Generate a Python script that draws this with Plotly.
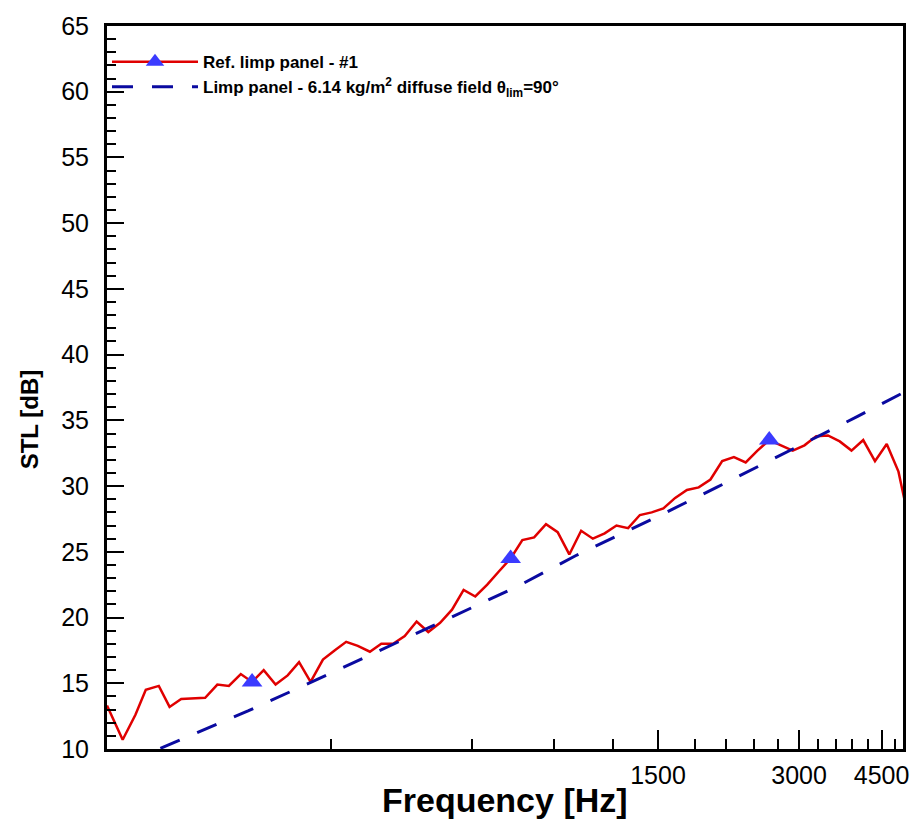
import plotly.graph_objects as go

# ---- data ----
freq_ref = [100, 108, 115, 121, 129, 136, 144, 153, 162, 172, 182, 193, 204, 216, 229, 243,
            257, 272, 289, 306, 324, 343, 364, 385, 408, 432, 458, 485, 514, 545, 577, 611,
            648, 686, 727, 770, 816, 865, 916, 970, 1028, 1089, 1154, 1223, 1295, 1372, 1454,
            1540, 1632, 1729, 1832, 1941, 2056, 2178, 2308, 2445, 2591, 2745, 2908, 3081,
            3264, 3458, 3664, 3882, 4112, 4357, 4616, 4890, 5181]
stl_ref = [13.3, 10.7, 12.6, 14.5, 14.8, 13.2, 13.8, 13.85, 13.9, 14.9, 14.8, 15.7, 15.1, 16.0,
           14.9, 15.6, 16.6, 15.1, 16.8, 17.5, 18.15, 17.85, 17.4, 18.0, 18.0, 18.6, 19.7, 18.9,
           19.6, 20.6, 22.1, 21.6, 22.5, 23.5, 24.5, 25.9, 26.1, 27.1, 26.5, 24.8, 26.6, 26.0,
           26.4, 27.0, 26.8, 27.8, 28.0, 28.3, 29.1, 29.7, 29.9, 30.5, 31.9, 32.2, 31.8, 32.7,
           33.5, 33.1, 32.7, 33.1, 33.8, 33.85, 33.4, 32.7, 33.5, 31.9, 33.2, 31.1, 26.9]
marker_idx = [12, 34, 56]   # points carrying a triangle symbol

freq_limp = [130, 200, 300, 500, 750, 1000, 1500, 2000, 3000, 4000, 5000]
stl_limp = [10.05, 12.9, 15.75, 19.4, 22.35, 24.7, 27.7, 29.9, 33.05, 35.3, 37.1]

x_major = [1500, 3000, 4500]
x_major_text = ["1500", "3000", "4500"]
x_minor = [300, 600, 900, 1200, 1800, 2100, 2400, 2700, 3300, 3600, 3900, 4200, 4800]

name_ref = "Ref. limp panel - #1"
name_limp = "Limp panel - 6.14 kg/m<sup>2</sup> diffuse field θ<sub>lim</sub>=90°"

FONT = "Liberation Sans, Arial, Helvetica, sans-serif"

fig = go.Figure()
fig.add_trace(go.Scatter(
    x=freq_ref, y=stl_ref, mode="lines+markers", name=name_ref,
    line=dict(color="#E00000", width=2.5),
    marker=dict(symbol="triangle-up", size=18, color="#3B3BFF", opacity=1,
                line=dict(width=0)),
    selectedpoints=marker_idx,
    selected=dict(marker=dict(opacity=1)),
    unselected=dict(marker=dict(opacity=0)),
))
fig.add_trace(go.Scatter(
    x=freq_limp, y=stl_limp, mode="lines", name=name_limp,
    line=dict(color="#0A0AA0", width=3, dash="21px,19px"),
))

axis_common = dict(
    showline=True, linecolor="black", linewidth=3, mirror=True,
    showgrid=False, zeroline=False,
    ticks="inside", tickcolor="black", tickwidth=2,
)

fig.update_xaxes(
    type="log", range=[2, 3.69897],
    tickmode="array", tickvals=x_major, ticktext=x_major_text,
    ticklen=19, ticklabelstandoff=2,
    tickfont=dict(family=FONT, size=25, color="black"),
    minor=dict(tickmode="array", tickvals=x_minor, ticks="inside",
               ticklen=10, tickwidth=2, tickcolor="black", showgrid=False),
    **axis_common,
)
fig.update_yaxes(
    range=[10, 65], tickmode="linear", tick0=10, dtick=5,
    ticklen=17, ticklabelstandoff=10,
    tickfont=dict(family=FONT, size=25, color="black"),
    minor=dict(dtick=1, ticks="inside", ticklen=9, tickwidth=2,
               tickcolor="black", showgrid=False),
    **axis_common,
)

fig.add_annotation(
    text="<b>Frequency [Hz]</b>", xref="paper", yref="paper",
    x=0.5, y=-0.070, xanchor="center", yanchor="middle", showarrow=False,
    font=dict(family=FONT, size=34, color="black"),
)
fig.add_annotation(
    text="<b>STL [dB]</b>", xref="paper", yref="paper",
    x=-0.098, y=0.456, xanchor="center", yanchor="middle", showarrow=False,
    textangle=-90, font=dict(family=FONT, size=24, color="black"),
)

fig.update_layout(
    width=921, height=820,
    margin=dict(l=107, r=14, t=20, b=71),
    paper_bgcolor="white", plot_bgcolor="white",
    showlegend=True,
    legend=dict(
        x=0.0, y=0.975, xanchor="left", yanchor="top",
        bgcolor="rgba(0,0,0,0)", itemwidth=86,
        tracegroupgap=0,
        font=dict(family=FONT, size=17, color="black", weight="bold"),
    ),
)

fig.write_html("out.html")
